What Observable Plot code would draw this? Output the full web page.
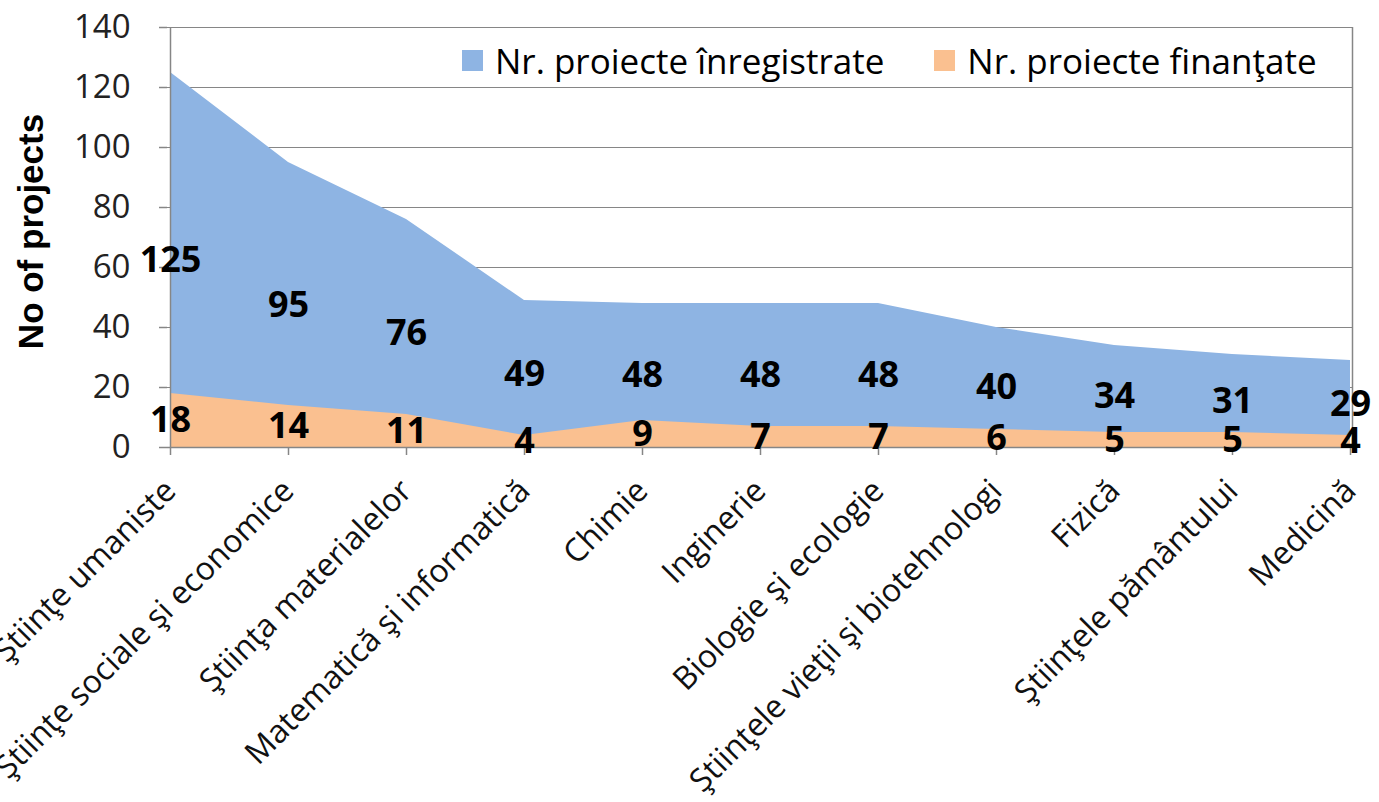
<!DOCTYPE html>
<html>
<head>
<meta charset="utf-8">
<script src="https://cdn.jsdelivr.net/npm/d3@7"></script>
<script src="https://cdn.jsdelivr.net/npm/@observablehq/plot@0.6"></script>
<style>
  html, body { margin: 0; padding: 0; background: #fff; }
  #wrap { position: relative; width: 1379px; height: 802px; overflow: hidden; }
  #legend { position: absolute; left: 462px; top: 37px; display: flex; align-items: center;
    font-family: "Open Sans", sans-serif; font-size: 35px; color: #000; white-space: nowrap; }
  #legend .sw { display: inline-block; width: 21px; height: 21px; margin-right: 12px; }
  #legend .item { display: flex; align-items: center; margin-right: 50px; }
</style>
</head>
<body>
<div id="wrap"></div>
<script>
const categories = [
  "Ştiinţe umaniste",
  "Ştiinţe sociale şi economice",
  "Ştiinţa materialelor",
  "Matematică şi informatică",
  "Chimie",
  "Inginerie",
  "Biologie şi ecologie",
  "Ştiinţele vieţii şi biotehnologi",
  "Fizică",
  "Ştiinţele pământului",
  "Medicină"
];
const registered = [125, 95, 76, 49, 48, 48, 48, 40, 34, 31, 29];
const funded = [18, 14, 11, 4, 9, 7, 7, 6, 5, 5, 4];
const yTicks = [0, 20, 40, 60, 80, 100, 120, 140];
const seriesNames = ["Nr. proiecte înregistrate", "Nr. proiecte finanţate"];
const seriesColors = ["#8EB4E3", "#FAC090"];
const yTitle = "No of projects";

const data = categories.map((c, i) => ({cat: c, registered: registered[i], funded: funded[i]}));
const gray = "#868686";

const chart = Plot.plot({
  width: 1379,
  height: 802,
  marginLeft: 167,
  marginRight: 27,
  marginTop: 27,
  marginBottom: 355,
  style: {fontFamily: "Open Sans, sans-serif", background: "#fff"},
  x: {type: "point", domain: categories, padding: 0},
  y: {domain: [0, 140]},
  marks: [
    Plot.gridY(yTicks, {stroke: gray, strokeOpacity: 1, strokeWidth: 1.2}),
    Plot.areaY(data, {x: "cat", y: "registered", fill: seriesColors[0]}),
    Plot.areaY(data, {x: "cat", y: "funded", fill: seriesColors[1]}),
    Plot.ruleY([0], {stroke: gray, strokeWidth: 1.5}),
    Plot.ruleX([categories[0]], {y1: 0, y2: 140, stroke: gray, strokeWidth: 1.5}),
    Plot.ruleX([categories[categories.length - 1]], {y1: 0, y2: 140, stroke: gray, strokeWidth: 1.5, dx: 2}),
    Plot.axisY(yTicks, {tickSize: 8, tickPadding: 29, fontSize: 33, stroke: gray, fill: "#222", strokeWidth: 1.5, label: null}),
    Plot.axisX({tickSize: 8, tickPadding: 30, tickRotate: -45, fontSize: 32, stroke: gray, fill: "#111", strokeWidth: 1.5, label: null}),
    Plot.text(data, {x: "cat", y: d => d.registered / 2, text: d => String(d.registered),
      fontSize: 36, fontWeight: "bold", fill: "#000", fontFamily: "Open Sans, sans-serif"}),
    Plot.text(data, {x: "cat", y: d => d.funded / 2, text: d => String(d.funded),
      fontSize: 36, fontWeight: "bold", fill: "#000", fontFamily: "Open Sans, sans-serif"}),
    Plot.text([yTitle], {frameAnchor: "left", textAnchor: "middle", rotate: -90, dx: -136, dy: -6, fontSize: 35, fontWeight: "bold",
      fill: "#000", fontFamily: "Liberation Sans, Arial, sans-serif"})
  ]
});

const wrap = document.getElementById("wrap");
wrap.appendChild(chart);

const legend = document.createElement("div");
legend.id = "legend";
seriesNames.forEach((n, i) => {
  const it = document.createElement("div");
  it.className = "item";
  const sw = document.createElement("span");
  sw.className = "sw";
  sw.style.background = seriesColors[i];
  const t = document.createElement("span");
  t.textContent = n;
  it.appendChild(sw);
  it.appendChild(t);
  legend.appendChild(it);
});
wrap.appendChild(legend);
</script>
</body>
</html>
